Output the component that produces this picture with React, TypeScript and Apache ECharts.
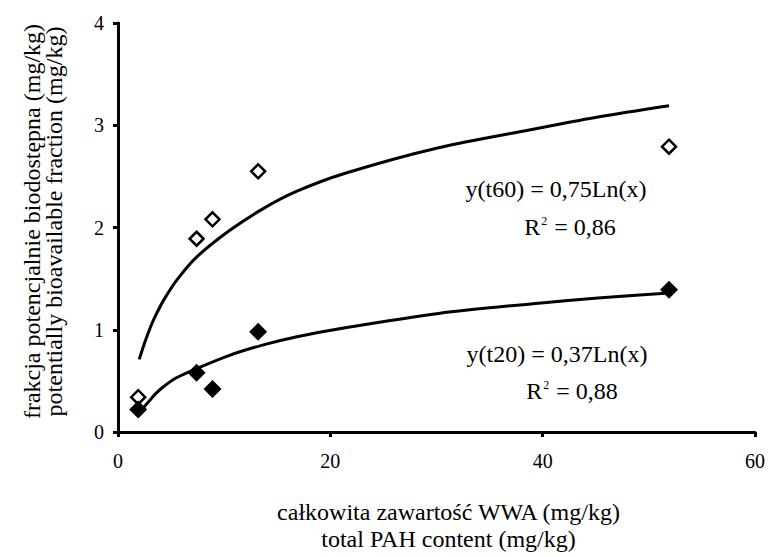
import React, { useEffect, useRef } from "react";
import * as echarts from "echarts";

// Measured points
const xValues = [1.9, 7.4, 8.9, 13.2, 51.9];
const t60Values = [0.34, 1.89, 2.08, 2.55, 2.79];
const t20Values = [0.22, 0.58, 0.42, 0.98, 1.39];

// Trend curves
const trendX = [2.0, 2.5, 3.0, 3.5, 4.25, 5.5, 7.4, 10.5, 13.6, 16.75, 21.4, 30.2, 39.6, 45.2, 51.9];
const trend60 = [0.71, 0.87, 1.01, 1.13, 1.28, 1.48, 1.71, 1.97, 2.18, 2.35, 2.53, 2.78, 2.97, 3.08, 3.19];
const trend20 = [0.16, 0.25, 0.31, 0.37, 0.44, 0.53, 0.62, 0.75, 0.85, 0.93, 1.02, 1.16, 1.26, 1.31, 1.36];

const xTicks = { min: 0, max: 60, interval: 20 };
const yTicks = { min: 0, max: 4, interval: 1 };

const xName = "całkowita zawartość WWA (mg/kg)\ntotal PAH content (mg/kg)";
const yName = "frakcja potencjalnie biodostępna (mg/kg)\npotentially bioavailable fraction (mg/kg)";

const eq60 = "y(t60) = 0,75Ln(x)";
const r60 = "R{s|2} = 0,86";
const eq20 = "y(t20) = 0,37Ln(x)";
const r20 = "R{s|2} = 0,88";

export default function App() {
  const ref = useRef<HTMLDivElement>(null);
  useEffect(() => {
    document.body.style.margin = "0";
    const chart = echarts.init(ref.current!, null, { renderer: "svg" });
    const font = "Liberation Serif";
    const pair = (xs: number[], ys: number[]) => xs.map((x, i) => [x, ys[i]]);
    const axisLine = { show: true, lineStyle: { color: "#000", width: 3 } };
    const axisTick = { show: true, length: 5, lineStyle: { color: "#000", width: 3 } };
    const eqStyle = (text: string, x: number, y: number) => ({
      type: "text",
      x,
      y,
      style: {
        text,
        fontSize: 24,
        fontFamily: font,
        fill: "#000",
        align: "center",
        verticalAlign: "middle",
        rich: { s: { fontSize: 12, verticalAlign: "top", fontFamily: font, padding: [0, 1, 0, 1] } },
      },
    });
    chart.setOption({
      animation: false,
      backgroundColor: "#fff",
      grid: { left: 118, right: 10, top: 23, bottom: 117, containLabel: false },
      xAxis: {
        type: "value",
        ...xTicks,
        axisLine,
        axisTick,
        splitLine: { show: false },
        axisLabel: { color: "#000", fontSize: 20, fontFamily: font, margin: 19 },
        name: xName,
        nameLocation: "middle",
        nameGap: 66,
        nameTextStyle: { color: "#000", fontSize: 24, fontFamily: font, lineHeight: 27, padding: [0, 0, 0, 24] },
      },
      yAxis: {
        type: "value",
        ...yTicks,
        axisLine,
        axisTick,
        splitLine: { show: false },
        axisLabel: { color: "#000", fontSize: 20, fontFamily: font, margin: 14 },
        name: yName,
        nameLocation: "middle",
        nameRotate: 90,
        nameGap: 53,
        nameTextStyle: { color: "#000", fontSize: 24, fontFamily: font, lineHeight: 22, padding: [0, 0, 0, 12] },
      },
      series: [
        {
          name: "trend t60",
          type: "line",
          data: pair(trendX, trend60),
          smooth: 0.3,
          showSymbol: false,
          symbol: "none",
          lineStyle: { color: "#000", width: 3 },
          z: 2,
        },
        {
          name: "trend t20",
          type: "line",
          data: pair(trendX, trend20),
          smooth: 0.3,
          showSymbol: false,
          symbol: "none",
          lineStyle: { color: "#000", width: 3 },
          z: 2,
        },
        {
          name: "t60",
          type: "scatter",
          data: pair(xValues, t60Values),
          symbol: "diamond",
          symbolSize: 14,
          itemStyle: { color: "#fff", borderColor: "#000", borderWidth: 2.5, opacity: 1 },
          z: 3,
        },
        {
          name: "t20",
          type: "scatter",
          data: pair(xValues, t20Values),
          symbol: "diamond",
          symbolSize: 18,
          itemStyle: { color: "#000", opacity: 1 },
          z: 4,
        },
      ],
      graphic: [
        eqStyle(eq60, 556, 189),
        eqStyle(r60, 570, 227),
        eqStyle(eq20, 557, 354),
        eqStyle(r20, 572, 391),
      ],
    });
    return () => chart.dispose();
  }, []);
  return <div ref={ref} style={{ width: 768, height: 557 }} />;
}
